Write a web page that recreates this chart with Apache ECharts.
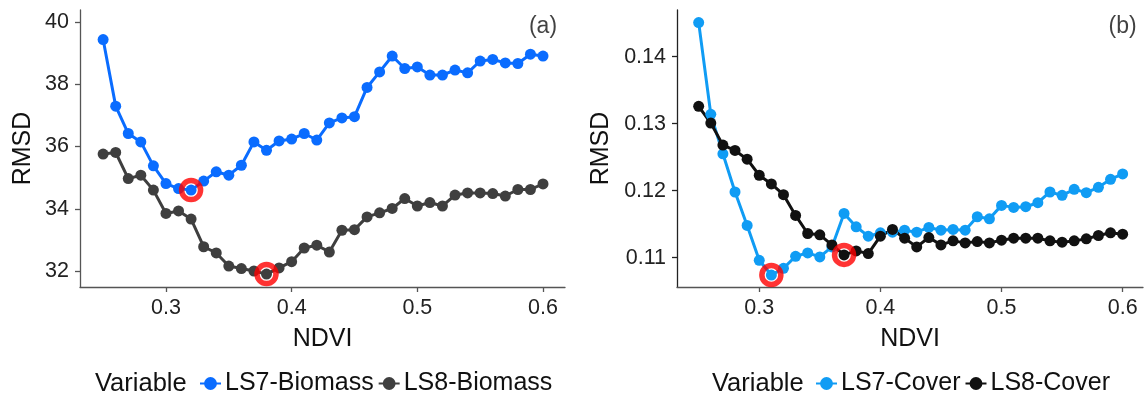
<!DOCTYPE html>
<html>
<head>
<meta charset="utf-8">
<script src="https://cdn.jsdelivr.net/npm/echarts@6/dist/echarts.min.js"></script>
<style>
  html, body { margin: 0; padding: 0; background: #ffffff; }
  #chart { width: 1148px; height: 396px; }
</style>
</head>
<body>
<div id="chart"></div>
<script>
// NDVI thresholds shared by both panels
const ndvi = [0.25, 0.26, 0.27, 0.28, 0.29, 0.30, 0.31, 0.32, 0.33, 0.34, 0.35, 0.36,
              0.37, 0.38, 0.39, 0.40, 0.41, 0.42, 0.43, 0.44, 0.45, 0.46, 0.47, 0.48,
              0.49, 0.50, 0.51, 0.52, 0.53, 0.54, 0.55, 0.56, 0.57, 0.58, 0.59, 0.60];

// Panel (a): biomass RMSD
const ls7Biomass = [39.44, 37.30, 36.42, 36.15, 35.38, 34.81, 34.65, 34.60, 34.89, 35.19, 35.08, 35.40,
                    36.15, 35.88, 36.18, 36.24, 36.42, 36.21, 36.76, 36.92, 36.96, 37.90, 38.40, 38.91,
                    38.51, 38.56, 38.30, 38.30, 38.46, 38.37, 38.75, 38.80, 38.69, 38.67, 38.97, 38.91];
const ls8Biomass = [35.76, 35.81, 34.97, 35.08, 34.60, 33.85, 33.93, 33.67, 32.78, 32.58, 32.16, 32.08,
                    32.00, 31.90, 32.10, 32.30, 32.74, 32.83, 32.61, 33.31, 33.33, 33.74, 33.87, 34.01,
                    34.33, 34.09, 34.20, 34.09, 34.44, 34.51, 34.51, 34.49, 34.41, 34.62, 34.62, 34.80];

// Panel (b): cover RMSD
const ls7Cover = [0.1451, 0.1314, 0.1255, 0.1198, 0.1148, 0.1096, 0.1074, 0.1084, 0.1102, 0.1107, 0.1101, 0.1116,
                  0.1166, 0.1146, 0.1132, 0.1137, 0.1138, 0.1141, 0.1138, 0.1145, 0.1141, 0.1142, 0.1141, 0.1161,
                  0.1158, 0.1178, 0.1175, 0.1176, 0.1182, 0.1198, 0.1193, 0.1202, 0.1197, 0.1205, 0.1217, 0.1225];
const ls8Cover = [0.1326, 0.1301, 0.1268, 0.1260, 0.1247, 0.1223, 0.1210, 0.1194, 0.1163, 0.1136, 0.1134, 0.1119,
                  0.1104, 0.1110, 0.1106, 0.1132, 0.1142, 0.1129, 0.1116, 0.1130, 0.1119, 0.1125, 0.1122, 0.1124,
                  0.1122, 0.1126, 0.1129, 0.1129, 0.1129, 0.1125, 0.1123, 0.1125, 0.1128, 0.1133, 0.1137, 0.1135];

// Tick labels
const xTicks = [0.3, 0.4, 0.5, 0.6];
const yTicksA = [32, 34, 36, 38, 40];
const yTicksB = [0.11, 0.12, 0.13, 0.14];

// Panel tags placed at x = 0.6
const panelTags = ['(a)', '(b)'];
const tagY = [39.84, 0.14444];

const FONT = '"Liberation Sans", Arial, sans-serif';
const INK = '#111111';
const C_LS7B = '#0a6cff', C_LS8B = '#3f3f3f', C_LS7C = '#109cf4', C_LS8C = '#111111';

const pairs = vals => ndvi.map((x, i) => [x, vals[i]]);
const minPoint = vals => {
  let k = 0;
  vals.forEach((v, i) => { if (v < vals[k]) k = i; });
  return [ndvi[k], vals[k]];
};

function lineSeries(name, vals, color, idx) {
  return {
    name, type: 'line', xAxisIndex: idx, yAxisIndex: idx,
    data: pairs(vals), symbol: 'circle', symbolSize: 11, showSymbol: true,
    lineStyle: { color, width: 3 }, itemStyle: { color },
    emphasis: { disabled: true }
  };
}
// open red ring around the lowest RMSD of each series
function ringSeries(points, idx) {
  return {
    type: 'scatter', xAxisIndex: idx, yAxisIndex: idx, data: points, z: 5,
    symbol: 'circle', symbolSize: 19,
    itemStyle: { color: 'rgba(0,0,0,0)', borderColor: '#ff0000', borderWidth: 5.5 },
    emphasis: { disabled: true }, silent: true
  };
}
function tagSeries(idx) {
  return {
    type: 'scatter', xAxisIndex: idx, yAxisIndex: idx, symbolSize: 0, silent: true,
    data: [[0.6, tagY[idx]]],
    label: { show: true, position: 'inside', formatter: panelTags[idx],
             fontFamily: FONT, fontSize: 23, color: INK }
  };
}
function xAxis(idx, min, max) {
  return {
    type: 'value', gridIndex: idx, min, max,
    name: 'NDVI', nameLocation: 'middle', nameGap: 40,
    nameTextStyle: { fontFamily: FONT, fontSize: 25, color: INK },
    splitLine: { show: false },
    axisLine: { show: true, onZero: false, lineStyle: { color: '#555', width: 1.3 } },
    axisTick: { show: true, length: 5, customValues: xTicks, lineStyle: { color: '#555', width: 1.3 } },
    axisLabel: { customValues: xTicks, fontFamily: FONT, fontSize: 21.5, color: '#222', margin: 10,
                 formatter: v => String(+v.toFixed(2)) }
  };
}
function yAxis(idx, min, max, ticks, gap, lineColor) {
  return {
    type: 'value', gridIndex: idx, min, max,
    name: 'RMSD', nameLocation: 'middle', nameGap: gap,
    nameTextStyle: { fontFamily: FONT, fontSize: 25, color: INK },
    splitLine: { show: false },
    axisLine: { show: true, onZero: false, lineStyle: { color: lineColor, width: 1.3 } },
    axisTick: { show: true, length: 5, customValues: ticks, lineStyle: { color: lineColor, width: 1.3 } },
    axisLabel: { customValues: ticks, fontFamily: FONT, fontSize: 21.5, color: '#222', margin: 11,
                 formatter: v => String(+v.toFixed(2)) }
  };
}
function legend(left, names) {
  return {
    left, top: 371, padding: 0, itemWidth: 21, itemHeight: 16, itemGap: 4,
    textStyle: { fontFamily: FONT, fontSize: 25, color: INK, padding: [0, 0, 0, -1] },
    data: names
  };
}
function caption(left) {
  return { type: 'text', left, top: 371, silent: true,
           style: { text: 'Variable', font: '25.5px "Liberation Sans", Arial, sans-serif', fill: INK } };
}

const chart = echarts.init(document.getElementById('chart'), null, { renderer: 'canvas' });
chart.setOption({
  animation: false,
  backgroundColor: '#ffffff',
  grid: [
    { left: 80, top: 10, width: 485, height: 277 },
    { left: 677, top: 10, width: 466, height: 277 }
  ],
  xAxis: [xAxis(0, 0.2316, 0.6175), xAxis(1, 0.2321, 0.6168)],
  yAxis: [yAxis(0, 31.486, 40.39, yTicksA, 44, '#555'), yAxis(1, 0.10561, 0.14698, yTicksB, 63, '#222')],
  legend: [legend(199, ['LS7-Biomass', 'LS8-Biomass']), legend(815, ['LS7-Cover', 'LS8-Cover'])],
  graphic: [caption(95), caption(712)],
  series: [
    lineSeries('LS7-Biomass', ls7Biomass, C_LS7B, 0),
    lineSeries('LS8-Biomass', ls8Biomass, C_LS8B, 0),
    ringSeries([minPoint(ls7Biomass), minPoint(ls8Biomass)], 0),
    tagSeries(0),
    lineSeries('LS7-Cover', ls7Cover, C_LS7C, 1),
    lineSeries('LS8-Cover', ls8Cover, C_LS8C, 1),
    ringSeries([minPoint(ls7Cover), minPoint(ls8Cover)], 1),
    tagSeries(1)
  ]
});
</script>
</body>
</html>
